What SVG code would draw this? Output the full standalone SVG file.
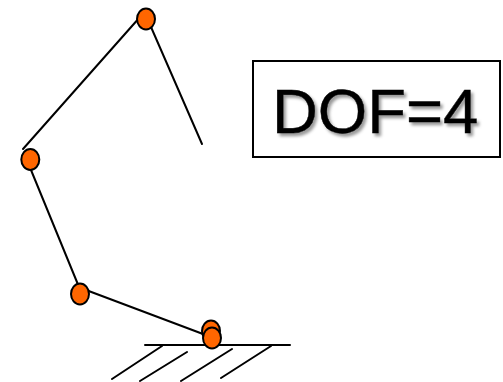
<svg xmlns="http://www.w3.org/2000/svg" width="503" height="382" viewBox="0 0 503 382">
<style>
.l{stroke:#000;stroke-width:2;fill:none;stroke-linecap:round}
.j{fill:#ff6600;stroke:#000;stroke-width:2}
.t{font-family:"Liberation Sans",Arial,sans-serif;font-size:63.5px;fill:#000}
</style>
<defs><filter id="b" x="-10%" y="-20%" width="120%" height="140%"><feDropShadow dx="2.5" dy="3" stdDeviation="1.6" flood-color="#000" flood-opacity=".4"/></filter></defs>
<rect width="503" height="382" fill="#fff"/>
<g id="connectors">
<path class="l" d="M23 149L140 17"/>
<path class="l" d="M151 27L202 144"/>
<path class="l" d="M31 170L79 287"/>
<path class="l" d="M86 290L203 334"/>
<path class="l" d="M145 345H290"/>
<path class="l" d="M162 346L112 379"/>
<path class="l" d="M187 352L140 381"/>
<path class="l" d="M232 349L181 381"/>
<path class="l" d="M271 346L221 378"/>
</g>
<g id="joint-1"><ellipse class="j" cx="146" cy="19" rx="9" ry="10.5"/></g>
<g id="joint-2"><ellipse class="j" cx="30.3" cy="159.5" rx="9" ry="10.5"/></g>
<g id="joint-3"><ellipse class="j" cx="80" cy="294" rx="9" ry="10.5"/></g>
<g id="joint-4"><ellipse class="j" cx="211" cy="331" rx="9" ry="10.5"/></g>
<g id="joint-5"><ellipse class="j" cx="212" cy="338" rx="9" ry="10.5"/></g>
<g id="dof-label">
<rect x="253" y="61" width="247" height="96" fill="#fff" stroke="#000" stroke-width="2"/>
<text class="t" x="272" y="133" filter="url(#b)" stroke="#000" stroke-width=".4">DOF=4</text>
</g>
</svg>
